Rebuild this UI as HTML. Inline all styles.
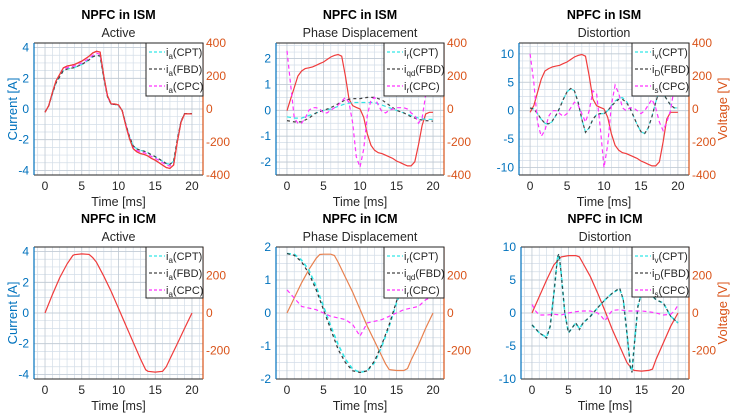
<!DOCTYPE html>
<html><head><meta charset="utf-8">
<style>
html,body{margin:0;padding:0;background:#fff;}
svg{display:block;font-family:"Liberation Sans",Arial,sans-serif;}
</style></head>
<body>
<svg id="chart" width="743" height="414" viewBox="0 0 743 414" xmlns="http://www.w3.org/2000/svg"></svg>
<script>
// ---- data ----
const xTicks = [0,5,10,15,20];
const tH = [0,0.5,1,1.5,2,2.5,3,3.5,4,4.5,5,5.5,6,6.5,7,7.5,8,8.5,9,9.5,10,10.5,11,11.5,12,12.5,13,13.5,14,14.5,15,15.5,16,16.5,17,17.5,18,18.5,19,19.5,20];
const t1 = [0,1,2,3,4,5,6,7,8,9,10,11,12,13,14,15,16,17,18,19,20];

// Panel 1: ISM active
const p1Volt = [-20,20,100,170,210,250,260,265,270,280,290,305,320,340,350,345,200,80,30,30,25,-10,-100,-180,-240,-260,-270,-275,-285,-300,-310,-325,-340,-355,-360,-340,-200,-80,-30,-30,-30];
const p1Cpt = [-0.2,0.2,1,1.7,2.1,2.5,2.6,2.65,2.7,2.8,2.9,3.05,3.2,3.4,3.5,3.45,2,0.8,0.3,0.3,0.25,-0.1,-1,-1.8,-2.4,-2.6,-2.7,-2.75,-2.85,-3,-3.1,-3.25,-3.4,-3.55,-3.6,-3.4,-2,-0.8,-0.3,-0.3,-0.3];
const p1Cpc = [-0.2,0.2,1,1.75,2.2,2.6,2.7,2.75,2.8,2.9,3,3.15,3.3,3.5,3.65,3.55,2.05,0.8,0.3,0.3,0.25,-0.1,-1,-1.85,-2.5,-2.7,-2.8,-2.85,-2.95,-3.1,-3.2,-3.35,-3.5,-3.65,-3.72,-3.5,-2.05,-0.8,-0.3,-0.3,-0.3];

// Panel 2: ISM phase displacement
const p2Volt = [-10,60,130,200,230,245,250,255,265,275,285,300,315,325,330,320,200,60,20,10,0,-50,-150,-220,-250,-265,-270,-280,-290,-300,-315,-325,-335,-345,-345,-320,-220,-100,-30,-20,-20];
const p2Cpt = [-0.25,-0.3,-0.3,-0.2,-0.1,0,0.05,0.15,0.25,0.3,0.3,0.3,0.3,0.2,0.1,0,-0.1,-0.2,-0.3,-0.35,-0.35];
const p2Fbd = [-0.4,-0.45,-0.45,-0.3,-0.1,0,0.1,0.25,0.4,0.45,0.45,0.5,0.5,0.4,0.2,0,-0.1,-0.25,-0.35,-0.4,-0.42];
const p2Cpc = [2.3,1.0,-0.3,-0.5,-0.5,-0.3,0,0.1,0.1,0.05,-0.1,-0.1,0,0.1,0.2,0.35,0.5,0.3,-0.5,-1.8,-2.2,-1.5,-0.2,0.4,0.5,0.2,-0.05,-0.1,0,0.05,0.1,0.1,0.1,0.05,-0.1,-0.2,-0.5,-0.3,0.6,1.2,1.5];

// Panel 3: ISM distortion
const p3Volt = [-20,20,100,180,230,245,255,260,265,275,285,300,315,325,330,320,200,60,20,10,0,-50,-150,-220,-250,-265,-270,-280,-290,-300,-315,-325,-335,-345,-345,-320,-200,-60,-20,-20,-20];
const p3Cpt = [0.5,0.3,-0.5,-1.5,-2.2,-2.4,-1.9,-0.8,0.5,2,3.3,3.9,3.5,1.5,-1.5,-3.8,-3,-1.5,-0.7,-0.5,-0.5,0,0.9,1.7,2.2,2.3,1.7,0.6,-1,-2.5,-3.7,-4,-3,-1,1.5,3.5,3,2,1,0.5,0.5];
const p3Fbd = [0.5,0.3,-0.5,-1.5,-2.2,-2.3,-1.8,-0.8,0.5,2,3.3,3.9,3.5,1.5,-1.5,-3.8,-3,-1.5,-0.7,-0.5,-0.5,0,0.8,1.5,2,2,1.5,0.5,-1,-2.5,-3.7,-4,-3,-1,1.5,3.5,3,2,1,0.5,0.5];
const p3Cpc = [10,5,-2,-4.5,-3.5,-1,0,0,-0.5,-1,-0.5,0.5,1.5,1,-0.5,-2,0,3.5,3,-3,-10,-6,1,4.5,3,0.5,0,0.5,0.5,0,-0.5,0,1,2,0.5,-2,-3.5,-2,0,4,6];

// Panel 4: ICM active
const t4 = [0,1,2,3,3.8,4,5,6,6.5,7,8,9,10,11,12,13,13.7,14,15,16,16.5,17,18,19,20];
const p4Cur = [0,1.2,2.3,3.2,3.75,3.8,3.85,3.82,3.6,3.3,2.4,1.4,0.3,-0.8,-1.9,-3,-3.7,-3.8,-3.85,-3.8,-3.5,-3,-2,-1,0];

// Panel 5: ICM phase displacement
const t5 = [0,1,2,3,4,4.5,5,6,6.5,7,8,9,10,11,12,13,13.5,14,15,16,16.5,17,18,19,20];
const p5Volt = [0,80,160,230,290,310,312,312,305,270,190,110,20,-70,-150,-230,-270,-300,-305,-305,-295,-250,-170,-80,0];
const p5Cpt = [1.8,1.78,1.6,1.3,0.8,0.2,-0.4,-0.95,-1.4,-1.7,-1.8,-1.75,-1.5,-1.0,-0.4,0.3,0.9,1.4,1.7,1.8,1.8];
const p5Fbd = [1.8,1.75,1.55,1.2,0.7,0.1,-0.5,-1.1,-1.5,-1.75,-1.8,-1.75,-1.45,-0.95,-0.35,0.35,0.95,1.45,1.72,1.8,1.8];
const p5Cpc = [0.7,0.45,0.2,0.15,0.1,0,-0.1,-0.15,-0.2,-0.35,-0.7,-0.3,-0.25,-0.2,-0.1,0,0.1,0.15,0.2,0.4,0.5];

// Panel 6: ICM distortion
const t6 = [0,1,2,2.5,3,3.5,3.7,4,4.5,5,6,6.5,7,8,9,10,11,12,12.5,13,13.5,13.7,14,14.5,15,16,17,18,19,20];
const p6Fbd = [-1.8,-3,-3.8,-2,3,8.5,9,6,0,-3,-1.5,-2.5,-1.5,-0.5,0.8,2,3,3.8,2,-3,-8.5,-9,-5,1,3,3.2,2,1.5,-0.5,-1.5];
const p6Cpt = [-1.8,-3,-3.7,-2,3,8.3,8.8,6,0,-3,-1.5,-2.4,-1.5,-0.5,0.8,2,3,3.7,2,-3,-8.3,-8.8,-5,1,3,3.1,2,1.5,-0.5,-1.5];
const t6b = [0,1,2,3,4,5,6,6.5,7,8,9,10,11,12,13,13.7,14,15,16,16.5,17,18,19,20];
const p6Cur = [0,2.5,5,7.3,8.5,8.7,8.7,8.5,7.5,5.5,3,0.3,-2.5,-5,-7.5,-8.5,-8.7,-8.8,-8.7,-8.5,-7,-4.5,-2,0];
const t6c = [0,0.5,1,2,3,4,5,6,7,8,9,9.5,10,10.5,11,12,13,14,15,16,17,18,19,19.5,20];
const p6Cpc = [1.3,0.3,-0.3,-0.3,-0.2,-0.3,0,0.2,0.3,0.3,0,-0.5,-1.2,-0.3,0.4,0.5,0.3,0.3,0.3,0.2,0,-0.3,-0.2,0.3,1.2];

const p1Ticks=[4,2,0,-2,-4], p2Ticks=[2,1,0,-1,-2], p3Ticks=[10,5,0,-5,-10];
const rTopTicks=[400,200,0,-200,-400], rBotTicks=[200,0,-200];

// ---- drawing ----
const svg=document.getElementById('chart');
const NS='http://www.w3.org/2000/svg';
const BLUE='#0072BD', ORANGE='#D95319';
function mk(tag,attrs,parent){const e=document.createElementNS(NS,tag);for(const k in attrs)e.setAttribute(k,attrs[k]);(parent||svg).appendChild(e);return e;}

const panels=[
 {L:34,T:43,W:169,H:132,yl:[-4.3,4.3],rl:[-400,400],yt:p1Ticks,rt:rTopTicks,title:'NPFC in ISM',sub:'Active',leg:146,legB:96,sub1:'a',sub2:'a',sub3:'a',ylab:true,
  ser:[{t:tH,y:p1Volt,ax:'r',c:'#F03C3C',d:null,n:'voltage-line'},{t:tH,y:p1Cpc,c:'#FF33FF',d:'4,3',n:'ia-cpc-line'},{t:tH,y:p1Cpt,c:'#33E6E6',d:'4,3',n:'ia-cpt-line'},{t:tH,y:p1Cpt,c:'#444',d:'3,3',n:'ia-fbd-line'},{t:tH,y:p1Volt,ax:'r',c:'#F03C3C',d:null,n:'voltage-line-top'}]},
 {L:276,T:43,W:168,H:132,yl:[-2.5,2.6],rl:[-400,400],yt:p2Ticks,rt:rTopTicks,title:'NPFC in ISM',sub:'Phase Displacement',leg:384,legB:96,sub1:'r',sub2:'qd',sub3:'r',
  ser:[{t:tH,y:p2Volt,ax:'r',c:'#F03C3C',d:null,n:'voltage-line'},{t:t1,y:p2Cpt,c:'#33E6E6',d:'4,3',n:'ir-cpt-line'},{t:t1,y:p2Fbd,c:'#444',d:'3,3',n:'iqd-fbd-line'},{t:tH,y:p2Cpc,c:'#FF33FF',d:'4,3',n:'ir-cpc-line'}]},
 {L:519,T:43,W:170,H:132,yl:[-11.3,11.9],rl:[-400,400],yt:p3Ticks,rt:rTopTicks,title:'NPFC in ISM',sub:'Distortion',leg:632,legB:96,sub1:'v',sub2:'D',sub3:'s',vlab:true,
  ser:[{t:tH,y:p3Volt,ax:'r',c:'#F03C3C',d:null,n:'voltage-line'},{t:tH,y:p3Cpt,c:'#33E6E6',d:'4,3',n:'iv-cpt-line'},{t:tH,y:p3Fbd,c:'#444',d:'3,3',n:'id-fbd-line'},{t:tH,y:p3Cpc,c:'#FF33FF',d:'4,3',n:'is-cpc-line'}]},
 {L:34,T:247,W:169,H:132,yl:[-4.3,4.3],rl:[-350,350],yt:p1Ticks,rt:rBotTicks,title:'NPFC in ICM',sub:'Active',leg:146,legB:298,sub1:'a',sub2:'a',sub3:'a',ylab:true,
  ser:[{t:t4,y:p4Cur,c:'#F03C3C',d:null,n:'current-line'}]},
 {L:276,T:247,W:168,H:132,yl:[-2,2],rl:[-350,350],yt:p2Ticks,rt:rBotTicks,title:'NPFC in ICM',sub:'Phase Displacement',leg:384,legB:298,sub1:'r',sub2:'qd',sub3:'r',
  ser:[{t:t5,y:p5Volt,ax:'r',c:'#E8814F',d:null,n:'voltage-line'},{t:t1,y:p5Cpt,c:'#33E6E6',d:'4,3',w:1.6,n:'ir-cpt-line'},{t:t1,y:p5Fbd,c:'#333',d:'3,3',n:'iqd-fbd-line'},{t:t1,y:p5Cpc,c:'#FF33FF',d:'4,3',n:'ir-cpc-line'}]},
 {L:521,T:247,W:168,H:132,yl:[-10,10],rl:[-350,350],yt:p3Ticks,rt:rBotTicks,title:'NPFC in ICM',sub:'Distortion',leg:632,legB:297,sub1:'v',sub2:'D',sub3:'s',vlab:true,
  ser:[{t:t6b,y:p6Cur,c:'#F03C3C',d:null,n:'current-line'},{t:t6,y:p6Cpt,c:'#33E6E6',d:'4,3',w:1.6,n:'iv-cpt-line'},{t:t6,y:p6Fbd,c:'#2F4F4F',d:'3,3',n:'id-fbd-line'},{t:t6c,y:p6Cpc,c:'#FF33FF',d:'4,3',n:'is-cpc-line'}]}
];

panels.forEach((p,i)=>{
 const g=mk('g',{});
 
 
 const X0=-1.5,X1=21.5;
 const sx=t=>p.L+(t-X0)/(X1-X0)*p.W;
 const sy=v=>p.T+p.H-(v-p.yl[0])/(p.yl[1]-p.yl[0])*p.H;
 const sr=v=>p.T+p.H-(v-p.rl[0])/(p.rl[1]-p.rl[0])*p.H;
 const R=p.L+p.W,B=p.T+p.H,cx=p.L+p.W/2;
 for(let t=-1;t<=21;t++){ if(t%5===0)continue; mk('line',{x1:sx(t),x2:sx(t),y1:p.T,y2:B,stroke:'#d3dde8','stroke-width':0.7},g);}
 const step=(p.yt[0]-p.yt[1]);
 const mstep=step/4;
 for(let v=Math.ceil(p.yl[0]/mstep)*mstep;v<=p.yl[1];v+=mstep){ mk('line',{x1:p.L,x2:R,y1:sy(v),y2:sy(v),stroke:'#d3dde8','stroke-width':0.7},g);}
 xTicks.forEach(t=>mk('line',{x1:sx(t),x2:sx(t),y1:p.T,y2:B,stroke:'#bfc9d3','stroke-width':0.8},g));
 p.yt.forEach(v=>mk('line',{x1:p.L,x2:R,y1:sy(v),y2:sy(v),stroke:'#bfc9d3','stroke-width':0.8},g));
 p.ser.forEach(s=>{
  const f=s.ax==='r'?sr:sy;
  const pts=s.t.map((t,k)=>sx(t).toFixed(1)+','+f(s.y[k]).toFixed(1)).join(' ');
  const a={points:pts,fill:'none',stroke:s.c,'stroke-width':s.w||1.2};
  if(s.d)a['stroke-dasharray']=s.d;
  const pl=mk('polyline',a,g);
  
  
 });
 mk('line',{x1:p.L,x2:R,y1:p.T,y2:p.T,stroke:'#262626','stroke-width':1},g);
 mk('line',{x1:p.L,x2:R,y1:B,y2:B,stroke:'#262626','stroke-width':1},g);
 mk('line',{x1:p.L,x2:p.L,y1:p.T,y2:B,stroke:BLUE,'stroke-width':1.2},g);
 mk('line',{x1:R,x2:R,y1:p.T,y2:B,stroke:ORANGE,'stroke-width':1.2},g);
 xTicks.forEach(t=>{
  const tx=mk('text',{x:sx(t),y:B+15,'text-anchor':'middle','font-size':12,fill:'#262626'},g);tx.textContent=t;
  
  
 });
 p.yt.forEach(v=>{
  const tx=mk('text',{x:p.L-5,y:sy(v)+4,'text-anchor':'end','font-size':12,fill:BLUE},g);tx.textContent=v;
  
  
 });
 p.rt.forEach(v=>{
  const tx=mk('text',{x:R+3,y:sr(v)+4,'font-size':12,fill:ORANGE},g);tx.textContent=v;
  
  
 });
 const xl=mk('text',{x:cx,y:B+31,'text-anchor':'middle','font-size':12.5,fill:'#262626'},g);xl.textContent='Time [ms]';
 
 
 const ti=mk('text',{x:cx,y:p.T-24,'text-anchor':'middle','font-size':12.5,'font-weight':'bold',fill:'#000'},g);ti.textContent=p.title;
 
 
 const su=mk('text',{x:cx,y:p.T-6,'text-anchor':'middle','font-size':12.5,fill:'#262626'},g);su.textContent=p.sub;
 
 
 if(p.ylab){const yl=mk('text',{x:0,y:0,transform:`translate(17,${p.T+p.H/2}) rotate(-90)`,'text-anchor':'middle','font-size':13,fill:BLUE},g);yl.textContent='Current [A]';
  
  }
 if(p.vlab){const vl=mk('text',{x:0,y:0,transform:`translate(727,${p.T+p.H/2}) rotate(-90)`,'text-anchor':'middle','font-size':13,fill:ORANGE},g);vl.textContent='Voltage [V]';
  
  }
 const lg=mk('g',{},g);
 
 
 mk('rect',{x:p.leg,y:p.T,width:R-p.leg,height:p.legB-p.T,fill:'#fff',stroke:'#262626','stroke-width':1},lg);
 const ents=[['#33E6E6',p.sub1,'(CPT)'],['#444',p.sub2,'(FBD)'],['#FF33FF',p.sub3,'(CPC)']];
 ents.forEach((e,k)=>{
  const y=p.T+9+k*17;
  const en=mk('g',{},lg);
  
  
  mk('line',{x1:p.leg+3,x2:p.leg+19,y1:y,y2:y,stroke:e[0],'stroke-width':1.2,'stroke-dasharray':'3,2'},en);
  const tx=mk('text',{x:p.leg+20,y:y+4,'font-size':11,fill:'#262626'},en);
  const a=mk('tspan',{},tx);a.textContent='i';
  const b=mk('tspan',{dy:3,'font-size':8},tx);b.textContent=e[1];
  const c=mk('tspan',{dy:-3},tx);c.textContent=e[2];
 });
});
</script>
</body></html>
